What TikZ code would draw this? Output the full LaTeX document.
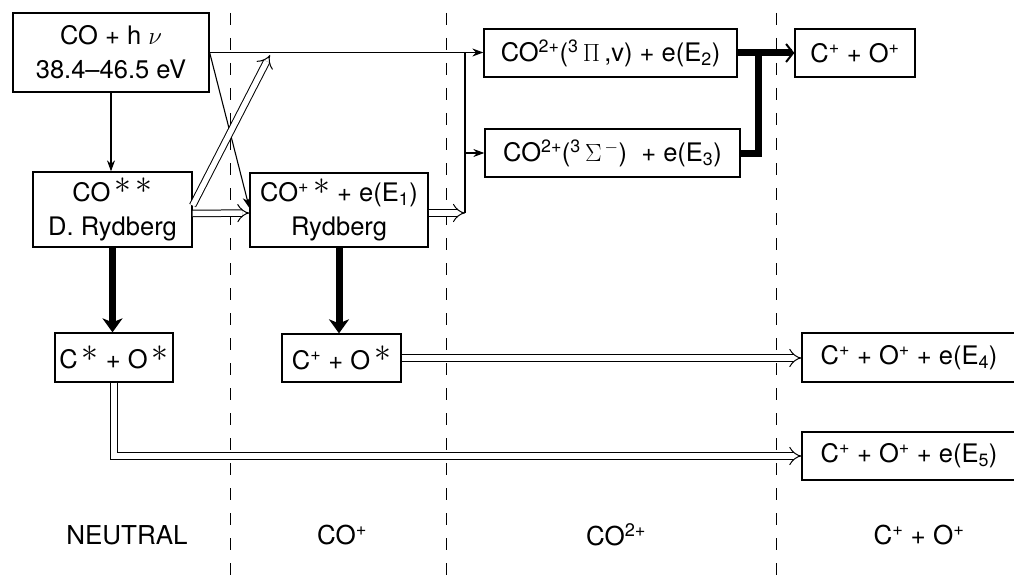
\documentclass[tikz,border=0pt]{standalone}
\usepackage{fontspec}
\usepackage{graphicx}
\setmainfont{TeX Gyre Heros}
\usetikzlibrary{arrows.meta,calc}
\newcommand{\bigast}{\raisebox{.55ex}{\scalebox{1.35}{$\ast$}}}
\begin{document}
\begin{tikzpicture}[x=1pt,y=-1pt,
  box/.style={draw, line width=1.3pt, inner sep=0pt, align=center, font=\fontsize{25.5}{34}\selectfont},
  thinarr/.style={line width=1.1pt, -{Stealth[length=11pt,width=8pt]}},
  thinline/.style={line width=1.1pt},
  dbl/.style={double, double distance=5.5pt, line width=1pt, line join=miter, -{Implies}},
  heavy/.style={line width=7pt, -{Stealth[length=14pt,width=20pt,inset=4pt]}},
  heavyline/.style={line width=7pt, line join=miter},
  sep/.style={dash pattern=on 12pt off 13pt, line width=1pt},
  lab/.style={font=\fontsize{26}{30}\selectfont, inner sep=0pt}
]
\useasboundingbox (0,0) rectangle (1014,583);

% separators
\draw[sep] (230,13) -- (230,583);
\draw[sep] (446,13) -- (446,583);
\draw[sep] (776,13) -- (776,583);

% boxes
\node[box, minimum width=196pt, minimum height=79pt] (A) at (111,52.5) {CO + h $\nu$\\38.4--46.5 eV};
\node[box, minimum width=159pt, minimum height=75pt] (B) at (112.5,209.5) {CO\,\bigast\,\bigast\\D. Rydberg};
\node[box, minimum width=178pt, minimum height=74pt] (C) at (339,210) {CO\textsuperscript{+}\,\bigast\ + e(E\textsubscript{1})\\Rydberg};
\node[box, minimum width=253pt, minimum height=48pt] (D) at (610.5,53) {CO\textsuperscript{2+}(\textsuperscript{3}\,$\Pi$\,,v) + e(E\textsubscript{2})};
\node[box, minimum width=255pt, minimum height=48pt] (E) at (612.5,153) {CO\textsuperscript{2+}(\textsuperscript{3}\,$\Sigma$\textsuperscript{\,$-$})\ \ + e(E\textsubscript{3})};
\node[box, minimum width=120pt, minimum height=48pt] (F) at (855,53) {C\textsuperscript{+} + O\textsuperscript{+}};
\node[box, minimum width=118pt, minimum height=49pt] (G) at (114,357.5) {C\,\bigast\ + O\,\bigast};
\node[box, minimum width=119pt, minimum height=48pt] (H) at (341.5,358) {C\textsuperscript{+} + O\,\bigast};
\node[box, minimum width=214pt, minimum height=49pt] (I) at (909,357.5) {C\textsuperscript{+} + O\textsuperscript{+} + e(E\textsubscript{4})};
\node[box, minimum width=214pt, minimum height=48pt] (J) at (909,456) {C\textsuperscript{+} + O\textsuperscript{+} + e(E\textsubscript{5})};

% column labels
\node[lab] (l1) at (127,535) {NEUTRAL};
\node[lab] (l2) at (342,535) {CO\textsuperscript{+}};
\node[lab] (l3) at (616,535) {CO\textsuperscript{2+}};
\node[lab] (l4) at (919,535) {C\textsuperscript{+} + O\textsuperscript{+}};

% helper coordinates
\coordinate (j) at (465,213);
\coordinate (jt) at (465,52.5);
\coordinate (t) at (270,55);
\coordinate (k) at (758,53);

% thin connectors
\draw[thinarr] (A.south) -- (A.south |- B.north);
\draw[thinarr] (A.east) -- (A.east -| D.west);
\draw[thinline] (j) -- (jt);
\draw[thinarr] (j |- E.west) -- (E.west);
\draw[thinarr] (A.east) -- ($(C.west)+(0,-2)$);

% double connectors
\draw[dbl] ($(B.east)+(0,-4)$) -- (t);
\draw[dbl] ($(B.east)+(0,4)$) -- ($(C.west)+(0,3)$);
\draw[dbl] ($(C.east)+(0,3)$) -- (j);
\draw[dbl] (H.east) -- (H.east -| I.west);
\draw[dbl] (G.south) -- (G.south |- J.west) -- (J.west);

% heavy connectors
\draw[heavy] (B.south) -- (B.south |- G.north);
\draw[heavy] (C.south) -- (C.south |- H.north);
\draw[heavyline] (E.east) -| (k);
\draw[line width=7pt, -{Straight Barb[length=7pt,width=18pt,line width=2pt]}] (D.east) -- (F.west);
\end{tikzpicture}
\end{document}
